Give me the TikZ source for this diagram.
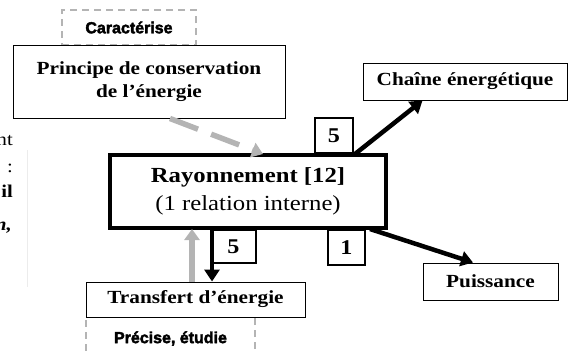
\documentclass[tikz,border=0pt]{standalone}
\usepackage{fontspec}
\setmainfont{Liberation Serif}[FakeStretch=1.15]
\newfontfamily\labfont{Liberation Sans}[FakeBold=2.5]
\usetikzlibrary{arrows.meta,shadows}
\definecolor{lgray}{HTML}{B4B4B4}
\begin{document}
\begin{tikzpicture}[x=1pt,y=-1pt,
  box/.style={draw=black, line width=1pt, fill=white, inner sep=0pt,
    drop shadow={shadow xshift=1.2pt, shadow yshift=-1.2pt, fill=black, opacity=1}},
  txt/.style={font=\bfseries\fontsize{18.5}{23}\selectfont, align=center},
  numbox/.style={draw=black, line width=1.5pt, fill=white, inner sep=0pt,
    font=\bfseries\fontsize{21}{24}\selectfont},
  labbox/.style={draw=lgray, line width=1.5pt, dash pattern=on 7pt off 5pt, inner sep=0pt,
    font=\labfont\bfseries\fontsize{16}{19}\selectfont},
  grayarrow/.style={draw=lgray, line width=5.5pt, -{Triangle[length=11pt,width=15pt]}},
  blackarrow/.style={draw=black, line width=4.5pt, -{Triangle[length=12pt,width=15pt]}},
  frag/.style={inner sep=0pt, anchor=base east, font=\fontsize{18}{21}\selectfont}
]
\useasboundingbox (0,0) rectangle (569,351);
\draw[gray!15, line width=0.8pt] (27,150) -- (27,287);
% left fragments
\node[frag] (f1) at (13,145) {nt};
\node[frag] (f2) at (13,172) {:};
\node[frag, font=\bfseries\fontsize{18}{21}\selectfont] (f3) at (13,197) {il};
\node[frag, font=\bfseries\itshape\fontsize{18}{21}\selectfont] (f4) at (12,230) {n,};
% dashed label boxes
\node[labbox, minimum width=134, minimum height=35] (carac) at (129,27.5) {Caractérise};
\node[labbox, minimum width=169, minimum height=43] (prec) at (170.5,338.5) {\raisebox{1pt}{Précise, étudie}};
% main boxes
\node[box, txt, minimum width=272, minimum height=73] (princ) at (149,81.5)
  {Principe de conservation\\de l'énergie};
\node[box, txt, minimum width=204, minimum height=37] (chaine) at (465,81.5) {Chaîne énergétique};
\node[box, txt, minimum width=135, minimum height=37] (puis) at (490.5,281.5) {Puissance};
\node[box, txt, minimum width=219, minimum height=35] (transf) at (195.5,299.5) {Transfert d'énergie};
\node[draw=black, line width=4pt, fill=white, inner sep=0pt, align=center,
  minimum width=276, minimum height=73, font=\fontsize{21.5}{28}\selectfont] (ray) at (248,191.5)
  {\textbf{Rayonnement [12]}\\(1 relation interne)};
% number boxes
\node[numbox, minimum width=38, minimum height=35] (n5a) at (334,135.5) {5};
\node[numbox, minimum width=45, minimum height=33] (n5b) at (233.5,246.5) {5};
\node[numbox, minimum width=37, minimum height=35] (n1) at (346.5,247.5) {1};
% arrows
\draw[grayarrow, dash pattern=on 30pt off 14pt] ([xshift=21pt]princ.south) -- ([xshift=15pt,yshift=-1pt]ray.north);
\draw[blackarrow] ([xshift=107pt,yshift=-1pt]ray.north) -- ([xshift=60pt]chaine.south west);
\draw[blackarrow] ([xshift=122pt,yshift=1pt]ray.south) -- ([xshift=-17.5pt]puis.north);
\coordinate (dstart) at ([xshift=-36pt,yshift=1pt]ray.south);
\draw[blackarrow] (dstart) -- (dstart |- transf.north);
\coordinate (ustart) at ([xshift=-3.5pt]transf.north);
\draw[grayarrow] (ustart) -- ([yshift=1pt]ustart |- ray.south);
\end{tikzpicture}
\end{document}
